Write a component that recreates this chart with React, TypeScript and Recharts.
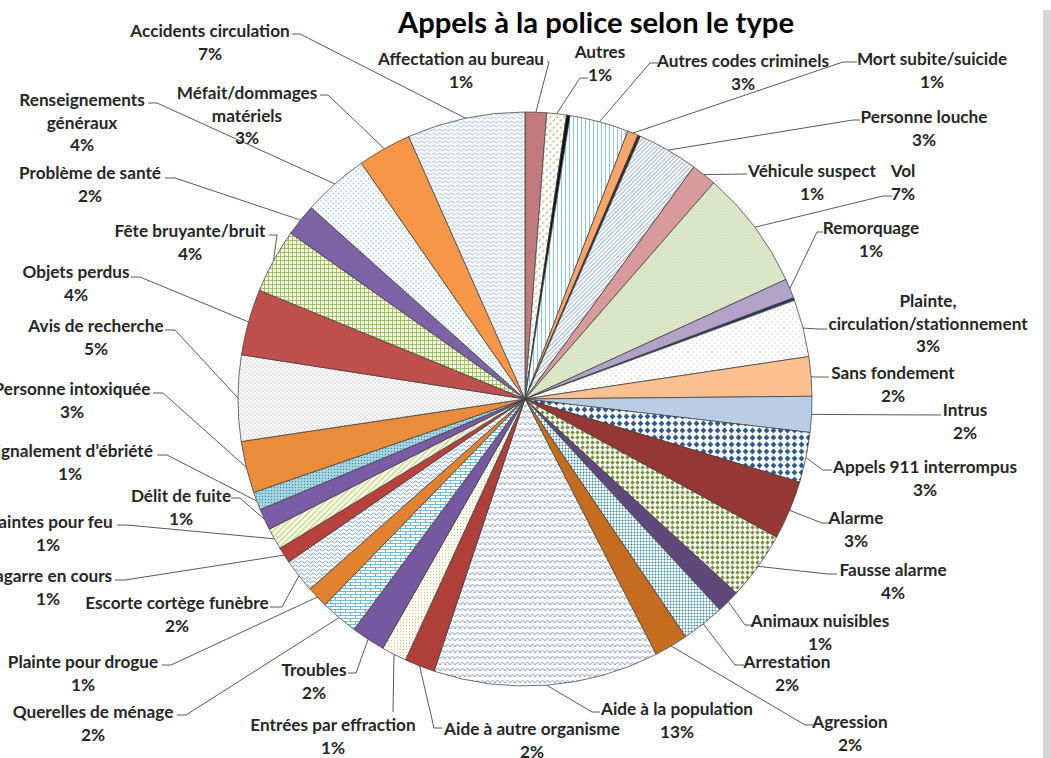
import React from 'react';
import { PieChart, Pie, Cell } from 'recharts';

// Categories in clockwise order from 12 o'clock
const categories = [
  'Affectation au bureau',
  'Autres',
  '(non étiqueté 1)',
  'Autres codes criminels',
  'Mort subite/suicide',
  '(non étiqueté 2)',
  'Personne louche',
  'Véhicule suspect',
  'Vol',
  'Remorquage',
  '(non étiqueté 3)',
  'Plainte, circulation/stationnement',
  'Sans fondement',
  'Intrus',
  'Appels 911 interrompus',
  'Alarme',
  'Fausse alarme',
  'Animaux nuisibles',
  'Arrestation',
  'Agression',
  'Aide à la population',
  'Aide à autre organisme',
  'Entrées par effraction',
  'Troubles',
  'Querelles de ménage',
  'Plainte pour drogue',
  'Escorte cortège funèbre',
  'Bagarre en cours',
  'Plaintes pour feu',
  'Délit de fuite',
  'Signalement d’ébriété',
  'Personne intoxiquée',
  'Avis de recherche',
  'Objets perdus',
  'Fête bruyante/bruit',
  'Problème de santé',
  'Renseignements généraux',
  'Méfait/dommages matériels',
  'Accidents circulation',
];

// Share of calls (%)
const values = [
  1.2, 1.1, 0.2, 3.3, 0.6, 0.15, 3.4, 1.4, 6.7, 1.1, 0.15, 3.2, 2.2, 2.0, 2.8, 3.3, 3.8, 1.3, 2.4, 1.9,
  12.6, 1.7, 1.4, 1.9, 2.1, 1.2, 1.9, 0.9, 1.2, 1.2, 1.0, 2.9, 4.8, 3.7, 3.6, 1.8, 3.7, 3.0, 6.6,
];

const data = categories.map((name, i) => ({ name, value: values[i] }));

const fills = [
  '#C27A7C', 'url(#pAutres)', '#111111', 'url(#pCodes)', '#F9A66C', '#3A2A22', 'url(#pLouche)', '#D99A9C',
  'url(#pVol)', '#B3A2C7', '#1F3864', 'url(#pPlainteCirc)', '#FAC090', '#B9CDE5', 'url(#pAppels)', '#953735',
  'url(#pFausse)', '#5F497A', 'url(#pArrest)', '#C56C1F', 'url(#pAidePop)', '#B03E39', 'url(#pEntrees)',
  '#7458A0', 'url(#pQuerelles)', '#E3822E', 'url(#pEscorte)', '#B9413C', 'url(#pFeu)', '#7A5BA6',
  'url(#pSignal)', '#E98C3C', 'url(#pAvis)', '#C0504D', 'url(#pFete)', '#7E62A6', 'url(#pRens)', '#F79646',
  'url(#pAccidents)',
];

// label layout: text centre x, first line centre y, leader bend point (ax, ay), leader end x (hx), wrap first word
type LL = { tx: number; ty: number; ax: number; ay: number; hx: number; wrap?: boolean } | null;
const labelLayout: LL[] = [
  { tx: 461, ty: 58, ax: 549, ay: 62, hx: 547 },
  { tx: 600, ty: 51, ax: 580, ay: 78, hx: 588 },
  null,
  { tx: 743, ty: 60, ax: 650, ay: 63, hx: 658 },
  { tx: 932, ty: 58, ax: 843, ay: 62, hx: 857 },
  null,
  { tx: 924, ty: 116, ax: 853, ay: 120, hx: 860 },
  { tx: 812, ty: 170, ax: 747, ay: 174, hx: 747 },
  { tx: 903, ty: 170, ax: 883, ay: 196, hx: 892 },
  { tx: 871, ty: 227, ax: 817, ay: 232, hx: 823 },
  null,
  { tx: 928, ty: 300, ax: 818, ay: 329, hx: 827, wrap: true },
  { tx: 893, ty: 372, ax: 813, ay: 377, hx: 829 },
  { tx: 965, ty: 409, ax: 940, ay: 415, hx: 941 },
  { tx: 925, ty: 466, ax: 823, ay: 470, hx: 832 },
  { tx: 856, ty: 517, ax: 822, ay: 523, hx: 831 },
  { tx: 893, ty: 569, ax: 828, ay: 574, hx: 837 },
  { tx: 820, ty: 620, ax: 745, ay: 625, hx: 754 },
  { tx: 787, ty: 661, ax: 735, ay: 665, hx: 744 },
  { tx: 850, ty: 721, ax: 805, ay: 725, hx: 814 },
  { tx: 677, ty: 708, ax: 592, ay: 712, hx: 600 },
  { tx: 532, ty: 728, ax: 434, ay: 728, hx: 442 },
  { tx: 333, ty: 724, ax: 393, ay: 712, hx: 393 },
  { tx: 314, ty: 669, ax: 356, ay: 673, hx: 348 },
  { tx: 93, ty: 711, ax: 186, ay: 715, hx: 177 },
  { tx: 83, ty: 661, ax: 171, ay: 665, hx: 162 },
  { tx: 177, ty: 602, ax: 282, ay: 607, hx: 270 },
  { tx: 48, ty: 575, ax: 125, ay: 580, hx: 115 },
  { tx: 48, ty: 521, ax: 127, ay: 525, hx: 117 },
  { tx: 181, ty: 495, ax: 240, ay: 498, hx: 231 },
  { tx: 70, ty: 450, ax: 167, ay: 455, hx: 157 },
  { tx: 72, ty: 388, ax: 163, ay: 393, hx: 153 },
  { tx: 96, ty: 325, ax: 175, ay: 330, hx: 165 },
  { tx: 76, ty: 271, ax: 140, ay: 277, hx: 131 },
  { tx: 190, ty: 230, ax: 277, ay: 235, hx: 269 },
  { tx: 90, ty: 172, ax: 175, ay: 178, hx: 165 },
  { tx: 82, ty: 99, ax: 157, ay: 103, hx: 148, wrap: true },
  { tx: 247, ty: 92, ax: 328, ay: 95, hx: 320, wrap: true },
  { tx: 210, ty: 30, ax: 300, ay: 34, hx: 292 },
];

const RAD = Math.PI / 180;
const FONT = 'Lato, "Open Sans", sans-serif';

function renderLabel(props: any) {
  const { cx, cy, midAngle, outerRadius, index, percent, name } = props;
  const L = labelLayout[index];
  if (!L) return null;
  const rx = cx + outerRadius * Math.cos(-midAngle * RAD);
  const ry = cy + outerRadius * Math.sin(-midAngle * RAD);
  let lines: string[];
  if (L.wrap) {
    const k = name.indexOf(' ');
    lines = [name.slice(0, k), name.slice(k + 1)];
  } else lines = [name];
  lines.push(`${Math.round(percent * 100)}%`);
  return (
    <g key={`lbl-${index}`}>
      <path d={`M${rx},${ry}L${L.ax},${L.ay}L${L.hx},${L.ay}`} stroke="#595959" strokeWidth={1} fill="none" />
      <text
        x={L.tx}
        y={L.ty}
        textAnchor="middle"
        dominantBaseline="central"
        fontFamily={FONT}
        fontWeight={700}
        fontSize={17.2}
        fill="#262626"
      >
        {lines.map((t, i) => (
          <tspan key={i} x={L.tx} dy={i === 0 ? 0 : 22.5}>
            {t}
          </tspan>
        ))}
      </text>
    </g>
  );
}

function Patterns() {
  return (
    <defs>
      <pattern id="pAutres" width="5" height="5" patternUnits="userSpaceOnUse" patternTransform="rotate(-45)">
        <rect width="5" height="5" fill="#fff" />
        <rect x="0" y="1" width="3" height="1.4" fill="#C4BD97" />
      </pattern>
      <pattern id="pCodes" width="4" height="4" patternUnits="userSpaceOnUse">
        <rect width="4" height="4" fill="#fff" />
        <rect x="1" y="0" width="1" height="4" fill="#8DC8D8" />
      </pattern>
      <pattern id="pLouche" width="3" height="3" patternUnits="userSpaceOnUse" patternTransform="rotate(45)">
        <rect width="3" height="3" fill="#fff" />
        <rect x="0" y="0" width="1" height="3" fill="#9BB7D4" />
      </pattern>
      <pattern id="pVol" width="3" height="3" patternUnits="userSpaceOnUse">
        <rect width="3" height="3" fill="#DDE7CB" />
        <circle cx="1" cy="1" r="0.6" fill="#C3D69B" />
      </pattern>
      <pattern id="pPlainteCirc" width="6" height="6" patternUnits="userSpaceOnUse">
        <rect width="6" height="6" fill="#fff" />
        <circle cx="1" cy="1" r="0.7" fill="#C4C4C4" />
        <circle cx="4" cy="4" r="0.7" fill="#C4C4C4" />
      </pattern>
      <pattern id="pAppels" width="7" height="7" patternUnits="userSpaceOnUse">
        <rect width="7" height="7" fill="#fff" />
        <polygon points="3.5,0.6 6.4,3.5 3.5,6.4 0.6,3.5" fill="#2F5A8A" />
      </pattern>
      <pattern id="pFausse" width="5" height="5" patternUnits="userSpaceOnUse">
        <rect width="5" height="5" fill="#fff" />
        <polygon points="2.5,0.3 4.7,2.5 2.5,4.7 0.3,2.5" fill="#76923C" />
      </pattern>
      <pattern id="pArrest" width="3" height="3" patternUnits="userSpaceOnUse">
        <rect width="3" height="3" fill="#fff" />
        <circle cx="1.5" cy="1.5" r="0.95" fill="#31859C" />
      </pattern>
      <pattern id="pAidePop" width="10" height="6" patternUnits="userSpaceOnUse">
        <rect width="10" height="6" fill="#fff" />
        <path d="M0,5 Q2.5,0 5,5 Q7.5,0 10,5" stroke="#6A8CC0" strokeWidth="0.8" fill="none" />
      </pattern>
      <pattern id="pAccidents" width="6" height="4" patternUnits="userSpaceOnUse">
        <rect width="6" height="4" fill="#fff" />
        <path d="M0,2 Q1.5,0 3,2 T6,2" stroke="#8EB4E3" strokeWidth="0.8" fill="none" />
      </pattern>
      <pattern id="pEntrees" width="3" height="3" patternUnits="userSpaceOnUse">
        <rect width="3" height="3" fill="#FFFFF2" />
        <circle cx="1.5" cy="1.5" r="0.55" fill="#BDB88F" />
      </pattern>
      <pattern id="pQuerelles" width="10" height="6" patternUnits="userSpaceOnUse">
        <rect width="10" height="6" fill="#fff" />
        <path d="M0,0.5H10M0,3.5H10M0.5,0.5V3.5M5.5,3.5V6.5" stroke="#4BACC6" strokeWidth="0.8" fill="none" />
      </pattern>
      <pattern id="pEscorte" width="6" height="4" patternUnits="userSpaceOnUse">
        <rect width="6" height="4" fill="#fff" />
        <path d="M0,2 Q1.5,0 3,2 T6,2" stroke="#5A8AC6" strokeWidth="0.8" fill="none" />
      </pattern>
      <pattern id="pFeu" width="4" height="4" patternUnits="userSpaceOnUse" patternTransform="rotate(45)">
        <rect width="4" height="4" fill="#FFFFE8" />
        <rect x="0" y="0" width="1.5" height="4" fill="#C4D79B" />
      </pattern>
      <pattern id="pSignal" width="3" height="3" patternUnits="userSpaceOnUse">
        <rect width="3" height="3" fill="#A6D6E2" />
        <circle cx="1.5" cy="1.5" r="0.7" fill="#3E8FA6" />
      </pattern>
      <pattern id="pAvis" width="4" height="4" patternUnits="userSpaceOnUse">
        <rect width="4" height="4" fill="#fff" />
        <circle cx="1" cy="1" r="0.6" fill="#8C8C8C" />
        <circle cx="3" cy="3" r="0.6" fill="#8C8C8C" />
      </pattern>
      <pattern id="pFete" width="4" height="4" patternUnits="userSpaceOnUse">
        <rect width="4" height="4" fill="#F2F7E8" />
        <path d="M0.5,0V4M0,0.5H4" stroke="#9BBB59" strokeWidth="0.9" />
      </pattern>
      <pattern id="pRens" width="5" height="5" patternUnits="userSpaceOnUse">
        <rect width="5" height="5" fill="#fff" />
        <circle cx="1" cy="1" r="0.8" fill="#8CC6D6" />
        <circle cx="3.5" cy="3.5" r="0.8" fill="#8CC6D6" />
      </pattern>
    </defs>
  );
}

export default function App() {
  return (
    <div style={{ position: 'absolute', left: 0, top: 0, width: 1051, height: 758, background: '#fff' }}>
      <PieChart width={1051} height={758} margin={{ top: 0, right: 0, bottom: 0, left: 0 }}>
        <Patterns />
        <text
          x={596}
          y={21}
          textAnchor="middle"
          dominantBaseline="central"
          fontFamily={FONT}
          fontWeight={700}
          fontSize={29.2}
          fill="#000"
        >
          Appels à la police selon le type
        </text>
        <Pie
          data={data}
          dataKey="value"
          nameKey="name"
          cx={525}
          cy={399}
          outerRadius={287}
          startAngle={90}
          endAngle={-270}
          stroke="#3F3F3F"
          strokeWidth={0.75}
          label={renderLabel}
          labelLine={false}
          isAnimationActive={false}
        >
          {data.map((d, i) => (
            <Cell key={d.name} fill={fills[i]} />
          ))}
        </Pie>
      </PieChart>
      <div style={{ position: 'absolute', left: 1043, top: 10, width: 8, height: 748, background: '#D6D6D6' }} />
    </div>
  );
}
